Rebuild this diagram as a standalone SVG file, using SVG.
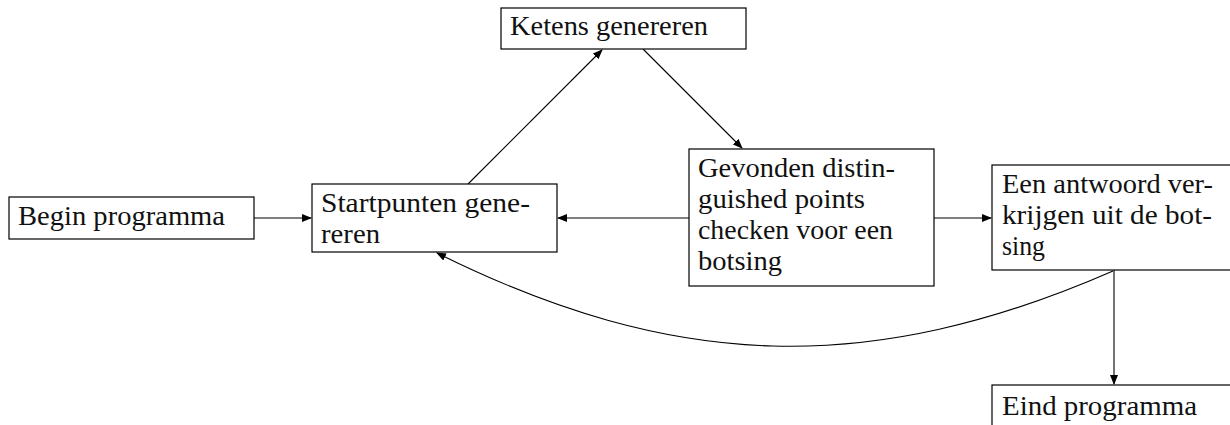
<svg xmlns="http://www.w3.org/2000/svg" width="1230" height="425" viewBox="0 0 1230 425">
<style>
.box{fill:#fff;stroke:#000;stroke-width:1.2}
.t{font-family:"Liberation Serif","Times New Roman",serif;font-size:27px;fill:#111}
.c{fill:none;stroke:#000;stroke-width:1.1}
</style>
<defs>
<marker id="ah" markerUnits="userSpaceOnUse" markerWidth="10" markerHeight="8" viewBox="0 0 10 8" refX="9" refY="4" orient="auto">
<path d="M0,0 L10,4 L0,8 Z" fill="#000"/>
</marker>
</defs>
<rect width="1230" height="425" fill="#fff"/>
<g id="connectors">
<line class="c" x1="254" y1="218" x2="311" y2="218" marker-end="url(#ah)"/>
<line class="c" x1="468" y1="184" x2="602" y2="50" marker-end="url(#ah)"/>
<line class="c" x1="643" y1="49" x2="742" y2="148" marker-end="url(#ah)"/>
<line class="c" x1="689" y1="218" x2="558" y2="218" marker-end="url(#ah)"/>
<line class="c" x1="934" y1="218" x2="991" y2="218" marker-end="url(#ah)"/>
<line class="c" x1="1114" y1="270" x2="1114" y2="384" marker-end="url(#ah)"/>
<path class="c" d="M1113,271 C870,377 674,371 437,253" marker-end="url(#ah)"/>
</g>
<g id="begin">
<rect class="box" x="9" y="197" width="245" height="42"/>
<text class="t" x="18" y="225" textLength="207" lengthAdjust="spacingAndGlyphs">Begin programma</text>
</g>
<g id="startpunten">
<rect class="box" x="312" y="184" width="245" height="68"/>
<text class="t" x="321" y="212" textLength="209" lengthAdjust="spacingAndGlyphs">Startpunten gene-</text>
<text class="t" x="321" y="243" textLength="59" lengthAdjust="spacingAndGlyphs">reren</text>
</g>
<g id="ketens">
<rect class="box" x="501" y="8" width="245" height="41"/>
<text class="t" x="510" y="35" textLength="198" lengthAdjust="spacingAndGlyphs">Ketens genereren</text>
</g>
<g id="gevonden">
<rect class="box" x="689" y="149" width="245" height="137"/>
<text class="t" x="698" y="177" textLength="197" lengthAdjust="spacingAndGlyphs">Gevonden distin-</text>
<text class="t" x="698" y="208" textLength="167" lengthAdjust="spacingAndGlyphs">guished points</text>
<text class="t" x="698" y="239" textLength="195" lengthAdjust="spacingAndGlyphs">checken voor een</text>
<text class="t" x="698" y="270" textLength="84" lengthAdjust="spacingAndGlyphs">botsing</text>
</g>
<g id="antwoord">
<rect class="box" x="992" y="165" width="245" height="105"/>
<text class="t" x="1002" y="193" textLength="211" lengthAdjust="spacingAndGlyphs">Een antwoord ver-</text>
<text class="t" x="1002" y="224" textLength="210" lengthAdjust="spacingAndGlyphs">krijgen uit de bot-</text>
<text class="t" x="1002" y="255" textLength="43" lengthAdjust="spacingAndGlyphs">sing</text>
</g>
<g id="eind">
<rect class="box" x="992" y="385" width="245" height="60"/>
<text class="t" x="1002" y="415" textLength="195" lengthAdjust="spacingAndGlyphs">Eind programma</text>
</g>
</svg>
